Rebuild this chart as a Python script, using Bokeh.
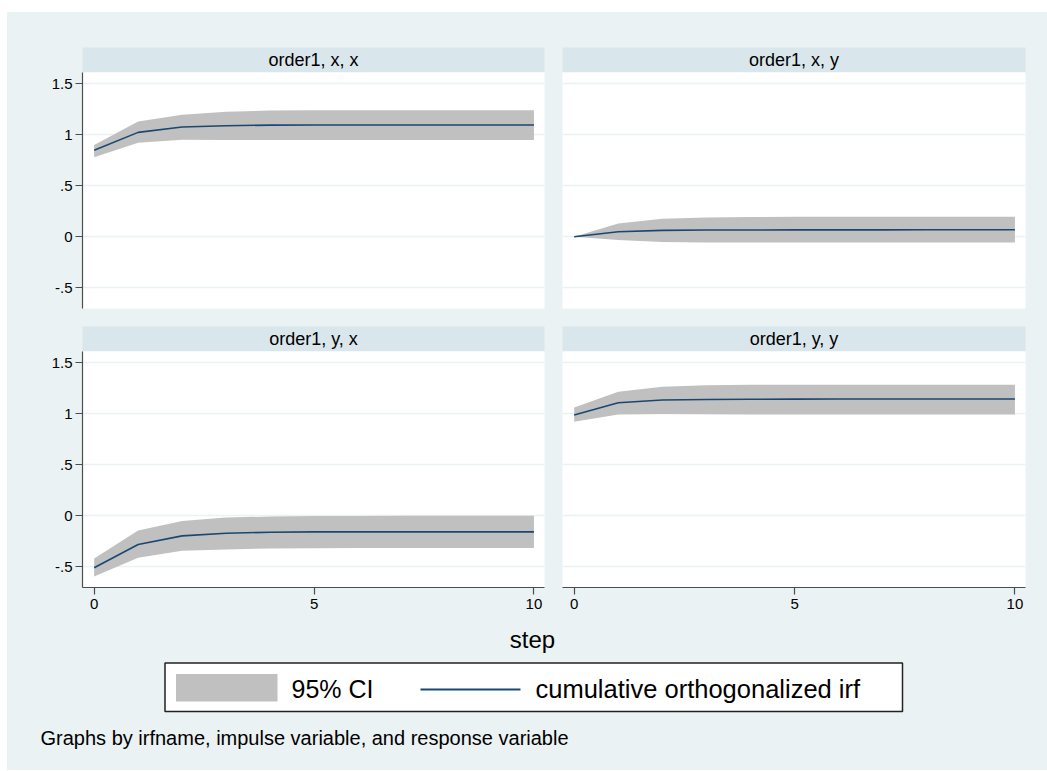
from bokeh.plotting import figure
from bokeh.layouts import row, column
from bokeh.models import Range1d, FixedTicker, LinearAxis, Grid
from bokeh.core.properties import value
from bokeh.embed import file_html
from bokeh.resources import INLINE

# ---------------- data ----------------
steps = [0, 1, 2, 3, 4, 5, 6, 7, 8, 9, 10]

panel_titles = ["order1, x, x", "order1, x, y", "order1, y, x", "order1, y, y"]

irf_xx = [0.847, 1.023, 1.075, 1.088, 1.094, 1.095, 1.095, 1.095, 1.095, 1.095, 1.095]
up_xx = [0.900, 1.130, 1.195, 1.224, 1.237, 1.240, 1.240, 1.240, 1.240, 1.240, 1.240]
lo_xx = [0.780, 0.920, 0.950, 0.948, 0.948, 0.948, 0.948, 0.948, 0.948, 0.948, 0.948]

irf_xy = [0.0, 0.049, 0.062, 0.065, 0.066, 0.067, 0.067, 0.067, 0.068, 0.068, 0.068]
up_xy = [0.0, 0.130, 0.175, 0.188, 0.193, 0.195, 0.195, 0.196, 0.196, 0.196, 0.196]
lo_xy = [0.0, -0.032, -0.052, -0.057, -0.058, -0.058, -0.058, -0.058, -0.058, -0.058, -0.058]

irf_yx = [-0.510, -0.283, -0.198, -0.172, -0.162, -0.159, -0.159, -0.159, -0.159, -0.159, -0.159]
up_yx = [-0.420, -0.146, -0.052, -0.018, -0.008, -0.004, -0.002, -0.001, -0.001, -0.001, -0.001]
lo_yx = [-0.597, -0.412, -0.344, -0.331, -0.321, -0.318, -0.317, -0.317, -0.317, -0.317, -0.317]

irf_yy = [0.987, 1.108, 1.134, 1.140, 1.142, 1.143, 1.144, 1.144, 1.144, 1.144, 1.144]
up_yy = [1.062, 1.216, 1.265, 1.278, 1.283, 1.285, 1.285, 1.285, 1.285, 1.285, 1.285]
lo_yy = [0.920, 0.993, 0.996, 0.995, 0.993, 0.993, 0.993, 0.993, 0.993, 0.993, 0.993]

yticks = [-0.5, 0, 0.5, 1, 1.5]
ytick_labels = ["-.5", "0", ".5", "1", "1.5"]
xticks = [0, 5, 10]
xtick_labels = ["0", "5", "10"]

legend_labels = ["95% CI", "cumulative orthogonalized irf"]
x_title = "step"
note = "Graphs by irfname, impulse variable, and response variable"

# ---------------- style ----------------
BG = "#EAF2F3"
HEAD = "#D9E6EB"
BAND = "#C0C0C0"
LINE = "#1A476F"
AXIS = "#4d4d4d"
FONT = value("Liberation Sans")
BGSTYLE = {"background-color": BG}

XR = (-0.265, 10.24)
YR = (-0.704, 1.61)


def header(title, left, fw, right, top=35):
    h = figure(frame_width=fw, frame_height=25, x_range=Range1d(0, 1), y_range=Range1d(0, 1),
               min_border=0, min_border_left=left, min_border_right=right, min_border_top=top,
               min_border_bottom=0, toolbar_location=None, output_backend="svg",
               x_axis_location=None, y_axis_location=None, title=None)
    h.grid.visible = False
    h.background_fill_color = HEAD
    h.border_fill_color = BG
    h.outline_line_color = None
    h.text(x=[0.5], y=[0.5], text=[title], text_align="center", text_baseline="middle",
           text_font=FONT, text_font_size="18px", text_color="black")
    return h


def style_axis(ax, standoff):
    ax.axis_line_color = AXIS
    ax.axis_line_width = 1.2
    ax.major_tick_line_color = AXIS
    ax.major_tick_line_width = 1.2
    ax.major_tick_out = 7
    ax.major_tick_in = 0
    ax.minor_tick_out = 0
    ax.minor_tick_in = 0
    ax.major_label_standoff = standoff
    ax.major_label_text_font = "Liberation Sans"
    ax.major_label_text_font_size = "15px"
    ax.major_label_text_color = "black"


def panel(irf, up, lo, left, fw, right, bottom, show_x, show_y):
    p = figure(frame_width=fw, frame_height=236, x_range=Range1d(*XR), y_range=Range1d(*YR),
               min_border=0, min_border_left=left, min_border_right=right, min_border_top=0,
               min_border_bottom=bottom, toolbar_location=None, output_backend="svg",
               x_axis_location=None, y_axis_location=None, title=None)
    p.grid.visible = False
    p.background_fill_color = "white"
    p.border_fill_color = BG
    p.outline_line_color = None
    p.add_layout(Grid(dimension=1, ticker=FixedTicker(ticks=yticks), grid_line_color=BG,
                      grid_line_width=1.6))
    if show_y:
        ya = LinearAxis(ticker=FixedTicker(ticks=yticks),
                        major_label_overrides=dict(zip(yticks, ytick_labels)))
        style_axis(ya, 3)
        p.add_layout(ya, "left")
    if show_x:
        xa = LinearAxis(ticker=FixedTicker(ticks=xticks),
                        major_label_overrides=dict(zip(xticks, xtick_labels)))
        style_axis(xa, 4)
        p.add_layout(xa, "below")
    p.varea(x=steps, y1=lo, y2=up, fill_color=BAND, fill_alpha=1.0)
    p.line(x=steps, y=irf, line_color=LINE, line_width=1.6)
    return p


# left column: x 7..553 (frame 82..544); right column: x 553..1047 (frame 562..1025)
L = dict(left=75, fw=462, right=9)
R = dict(left=9, fw=463, right=22)

h_tl = header(panel_titles[0], **L)
h_tr = header(panel_titles[1], **R)
p_tl = panel(irf_xx, up_xx, lo_xx, bottom=18, show_x=False, show_y=True, **L)
p_tr = panel(irf_xy, up_xy, lo_xy, bottom=18, show_x=False, show_y=False, **R)

h_bl = header(panel_titles[2], top=0, **L)
h_br = header(panel_titles[3], top=0, **R)
p_bl = panel(irf_yx, up_yx, lo_yx, bottom=33, show_x=True, show_y=True, **L)
p_br = panel(irf_yy, up_yy, lo_yy, bottom=33, show_x=True, show_y=False, **R)

# bottom area: page pixels x 7..1047, y 620..770
b = figure(frame_width=1040, frame_height=150, x_range=Range1d(7, 1047), y_range=Range1d(770, 620),
           min_border=0, toolbar_location=None, output_backend="svg",
           x_axis_location=None, y_axis_location=None, title=None)
b.grid.visible = False
b.background_fill_color = BG
b.border_fill_color = BG
b.outline_line_color = None

b.text(x=[532], y=[639], text=[x_title], text_align="center", text_baseline="middle",
       text_font=FONT, text_font_size="24px", text_color="black")
# legend box
b.quad(left=[164.5], right=[902], top=[662.5], bottom=[711], fill_color="white",
       line_color="#222222", line_width=1.5)
b.quad(left=[175.5], right=[277], top=[673.5], bottom=[701], fill_color=BAND, line_color=None)
b.text(x=[291], y=[688], text=[legend_labels[0]], text_align="left", text_baseline="middle",
       text_font=FONT, text_font_size="25px", text_color="black")
b.line(x=[420, 520], y=[689, 689], line_color=LINE, line_width=2)
b.text(x=[535], y=[688], text=[legend_labels[1]], text_align="left", text_baseline="middle",
       text_font=FONT, text_font_size="25.5px", text_color="black")
b.text(x=[40], y=[737], text=[note], text_align="left", text_baseline="middle",
       text_font=FONT, text_font_size="20px", text_color="black")

layout = column(
    row(column(h_tl, p_tl, styles=BGSTYLE), column(h_tr, p_tr, styles=BGSTYLE), styles=BGSTYLE),
    row(column(h_bl, p_bl, styles=BGSTYLE), column(h_br, p_br, styles=BGSTYLE), styles=BGSTYLE),
    b,
    margin=(12, 0, 0, 7),
    styles=BGSTYLE,
)

open("out.html", "w").write(file_html(layout, INLINE))
